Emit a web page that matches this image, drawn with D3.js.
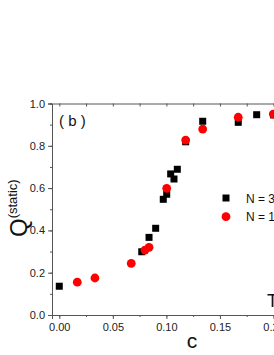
<!DOCTYPE html>
<html>
<head>
<meta charset="utf-8">
<script src="https://cdn.jsdelivr.net/npm/d3@7"></script>
<style>
  body { margin: 0; background: #fff; overflow: hidden; }
  svg { display: block; font-family: "Liberation Sans", Arial, sans-serif; }
</style>
</head>
<body>
<svg id="chart"></svg>
<script>
// N = 300 (black squares)
const cBlack = [0.0, 0.077, 0.0838, 0.090, 0.0971, 0.1003, 0.104, 0.1071, 0.1102, 0.118, 0.1339, 0.1671, 0.1843, 0.2]
const qBlack = [0.136, 0.299, 0.367, 0.410, 0.547, 0.571, 0.667, 0.643, 0.689, 0.819, 0.916, 0.911, 0.947, 0.946]
// N = 1000 (red circles)
const cRed = [0.0168, 0.0333, 0.0672, 0.080, 0.0838, 0.1003, 0.118, 0.1339, 0.1671, 0.1998]
const qRed = [0.155, 0.175, 0.244, 0.307, 0.320, 0.599, 0.827, 0.879, 0.935, 0.950]

const xTicks = [0, 0.05, 0.1, 0.15, 0.2]
const yTicks = [0, 0.2, 0.4, 0.6, 0.8, 1.0]
const legendLabels = ['N = 300', 'N = 1000']

const width = 274
const height = 355

const svg = d3.select('svg#chart')
  .attr('width', width)
  .attr('height', height)

const x = d3.scaleLinear().domain([-0.0068, 0.22]).range([52, 52 + 1071 * 0.2268])
const y = d3.scaleLinear().domain([0, 1]).range([315, 103.5])

const axisColor = '#555'

function styleAxis(g) {
  g.select('.domain').attr('stroke', axisColor).attr('stroke-width', 1)
  g.selectAll('.tick line').attr('stroke', axisColor)
  g.selectAll('.tick text').attr('fill', '#222').style('font-size', '11px')
}

// minor ticks
const xMinor = d3.range(0, 0.2251, 0.025)
const yMinor = d3.range(0, 1.001, 0.1)

svg.append('g')
  .attr('transform', `translate(0,${y(0)})`)
  .call(d3.axisBottom(x).tickValues(xMinor).tickSize(2).tickFormat(''))
  .call(styleAxis)

svg.append('g')
  .attr('transform', `translate(0,${y(0)})`)
  .call(d3.axisBottom(x).tickValues(xTicks).tickSize(4).tickPadding(4)
    .tickFormat(d => d === 0.2 ? '0.20' : d3.format('.2f')(d)))
  .call(styleAxis)

svg.append('g')
  .attr('transform', `translate(0,${y(1)})`)
  .call(d3.axisTop(x).tickValues(xMinor).tickSize(-3).tickFormat(''))
  .call(styleAxis)

svg.append('g')
  .attr('transform', `translate(${x.range()[0]},0)`)
  .call(d3.axisLeft(y).tickValues(yMinor).tickSize(2).tickFormat(''))
  .call(styleAxis)

svg.append('g')
  .attr('transform', `translate(${x.range()[0]},0)`)
  .call(d3.axisLeft(y).tickValues(yTicks).tickSize(4).tickPadding(3).tickFormat(d3.format('.1f')))
  .call(styleAxis)

svg.append('g')
  .attr('transform', `translate(${x.range()[1]},0)`)
  .call(d3.axisRight(y).tickValues(yMinor).tickSize(-3).tickFormat(''))
  .call(styleAxis)

// data
const black = cBlack.map((c, i) => ({ c, q: qBlack[i] }))
const red = cRed.map((c, i) => ({ c, q: qRed[i] }))

const sq = 7
svg.append('g').selectAll('rect')
  .data(black)
  .enter().append('rect')
  .attr('x', d => x(d.c) - sq / 2)
  .attr('y', d => y(d.q) - sq / 2)
  .attr('width', sq)
  .attr('height', sq)
  .attr('fill', '#000')

svg.append('g').selectAll('circle')
  .data(red)
  .enter().append('circle')
  .attr('cx', d => x(d.c))
  .attr('cy', d => y(d.q))
  .attr('r', 4.4)
  .attr('fill', '#f00')

// legend
const lg = svg.append('g')
lg.append('rect').attr('x', 226 - sq / 2).attr('y', 198 - sq / 2).attr('width', sq).attr('height', sq).attr('fill', '#000')
lg.append('circle').attr('cx', 226).attr('cy', 216.7).attr('r', 4.4).attr('fill', '#f00')
lg.selectAll('text')
  .data(legendLabels)
  .enter().append('text')
  .attr('x', 246)
  .attr('y', (d, i) => 202.5 + i * 18.7)
  .style('font-size', '12px')
  .attr('fill', '#111')
  .text(d => d)

// labels
svg.append('text')
  .attr('x', 59)
  .attr('y', 126)
  .style('font-size', '15px')
  .attr('fill', '#111')
  .text('( b )')

svg.append('text')
  .attr('x', 267)
  .attr('y', 307)
  .style('font-size', '18px')
  .attr('fill', '#111')
  .text('T = 0')

svg.append('text')
  .attr('x', 192)
  .attr('y', 348)
  .attr('text-anchor', 'middle')
  .style('font-size', '21px')
  .attr('fill', '#111')
  .text('c')

const yl = svg.append('text')
  .attr('transform', 'translate(27,237) rotate(-90)')
  .attr('fill', '#111')
yl.append('tspan').style('font-size', '24px').text('Q')
yl.append('tspan').style('font-size', '13px').attr('dy', -10).text('(static)')
</script>
</body>
</html>
